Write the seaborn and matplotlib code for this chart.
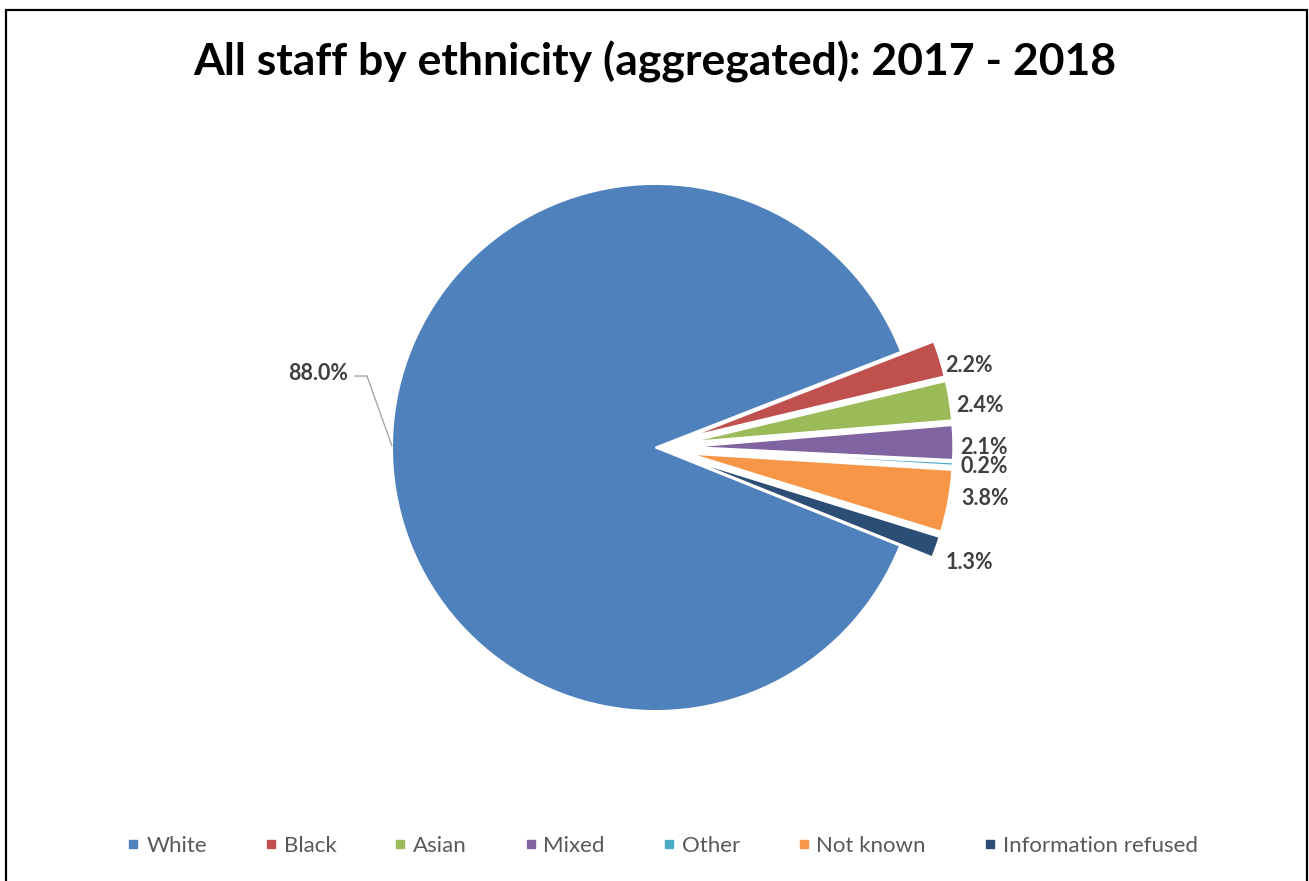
import numpy as np
import matplotlib
matplotlib.use("Agg")
import matplotlib.pyplot as plt
from matplotlib.lines import Line2D
from matplotlib.patches import Rectangle
import seaborn as sns

sns.set_theme(style="white")
plt.rcParams['font.family'] = ['Lato', 'DejaVu Sans']

# Data
categories = ["White", "Black", "Asian", "Mixed", "Other", "Not known", "Information refused"]
shares = [88.0, 2.2, 2.4, 2.1, 0.2, 3.8, 1.3]
value_labels = ["88.0%", "2.2%", "2.4%", "2.1%", "0.2%", "3.8%", "1.3%"]
title = "All staff by ethnicity (aggregated): 2017 - 2018"

palette = sns.color_palette(["#4F81BD", "#C0504D", "#9BBB59", "#8064A2",
                             "#4BACC6", "#F79646", "#2C4D75"])

# Layout (pixels)
W, H = 1309, 881
R = 263.5                 # pie radius in px
cx, cy = 655.5, 447.5     # pie centre, px from top-left

fig = plt.figure(figsize=(W / 100, H / 100), dpi=100)
fig.patch.set_facecolor("white")
ax = fig.add_axes([0, 0, 1, 1])

explode = [0.0] + [0.13] * (len(shares) - 1)
wedges, _ = ax.pie(shares, colors=palette, explode=explode, startangle=-21.9,
                   counterclock=False, radius=1.0,
                   wedgeprops=dict(linewidth=1.4, edgecolor="white"))
ax.set_xlim(-cx / R, (W - cx) / R)
ax.set_ylim(-(H - cy) / R, cy / R)
ax.set_aspect("auto")
ax.axis("off")

# Outside labels for the small slices: radius and small angular nudge
label_r = [None, 1.229, 1.242, 1.247, 1.249, 1.266, 1.268]
label_nudge = [None, -2.7, -1.6, -0.9, -0.2, 1.5, -0.6]
label_size = 15.5
for i, w in enumerate(wedges):
    mid = 0.5 * (w.theta1 + w.theta2)
    if i == 0:
        a = np.deg2rad(mid)
        p0 = np.array([np.cos(a), np.sin(a)])
        elbow = p0 + np.array([-0.095, 0.266])
        end = elbow + np.array([-0.049, 0.0])
        ax.plot([p0[0], elbow[0], end[0]], [p0[1], elbow[1], end[1]],
                color="#A6A6A6", lw=1.0, solid_capstyle="butt")
        ax.text(end[0] - 0.022, end[1] + 0.008, value_labels[i], ha="right",
                va="center", fontsize=label_size, fontweight="bold", color="#404040")
    else:
        a = np.deg2rad(mid + label_nudge[i])
        ax.text(label_r[i] * np.cos(a), label_r[i] * np.sin(a), value_labels[i],
                ha="center", va="center", fontsize=label_size, fontweight="bold",
                color="#404040")

fig.text(0.5, 1 - 62 / H, title, ha="center", va="center", fontsize=32,
         fontweight="bold", color="black")

handles = [Line2D([], [], marker="s", linestyle="none", markersize=6,
                  markerfacecolor=c, markeredgecolor=c) for c in palette]
leg = fig.legend(handles, categories, loc="center", ncol=len(categories),
                 bbox_to_anchor=(662.5 / W, 1 - 846 / H), frameon=False,
                 fontsize=16, handlelength=0.55, handletextpad=0.3,
                 columnspacing=2.6, borderpad=0)
for t in leg.get_texts():
    t.set_color("#595959")

# Chart border
fig.add_artist(Rectangle((5.5 / W, -0.05), (1306.5 - 5.5) / W, 1 - 9.5 / H + 0.05,
                         transform=fig.transFigure, fill=False,
                         edgecolor="black", linewidth=1.6))

fig.savefig("out.png", dpi=100)
